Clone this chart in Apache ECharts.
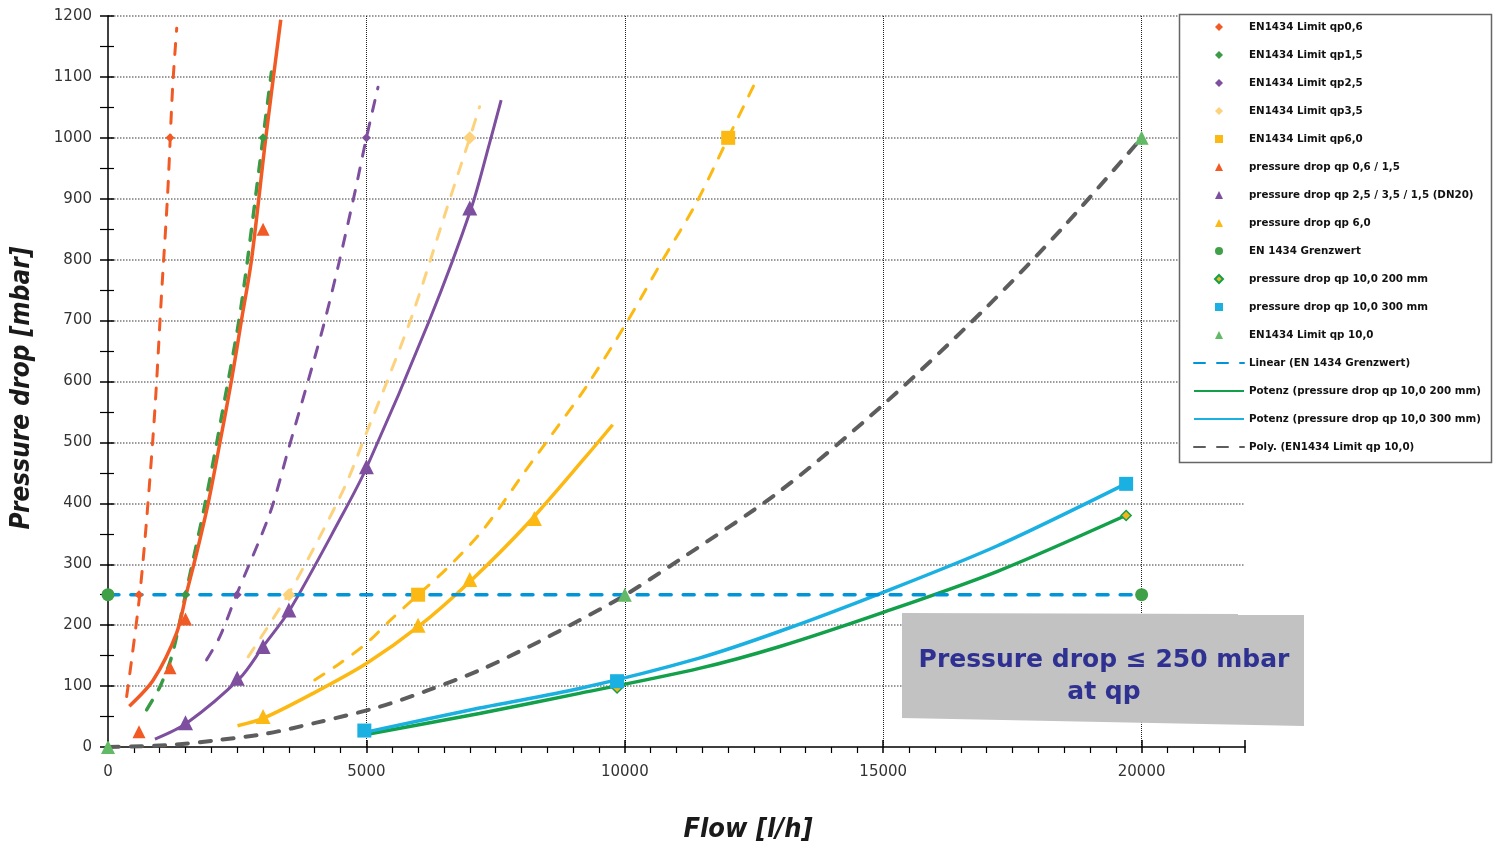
<!DOCTYPE html>
<html lang="en">
<head>
<meta charset="UTF-8">
<title>Pressure drop</title>
<script src="https://cdn.jsdelivr.net/npm/echarts@6.0.0/dist/echarts.min.js"></script>
<style>html,body{margin:0;padding:0;background:#fff}</style>
</head>
<body>
<div id="main" style="width:1501px;height:845px"></div>
<script>
// EN 1434 limit points
var limitQp06 = [[600, 250], [1200, 1000]]
var limitQp15 = [[1500, 250], [3000, 1000]]
var limitQp25 = [[2500, 250], [5000, 1000]]
var limitQp35 = [[3500, 250], [7000, 1000]]
var limitQp60 = [[6000, 250], [12000, 1000]]
var limitQp10 = [[0, 0], [10000, 250], [20000, 1000]]
var grenzwert = [[0, 250], [20000, 250]]

// measured pressure drop
var dropQp06 = [[600, 25], [1200, 130], [1500, 210], [3000, 850]]
var dropQp25 = [[1500, 40], [2500, 113], [3000, 165], [3500, 225], [5000, 460], [7000, 885]]
var dropQp60 = [[3000, 50], [6000, 200], [7000, 275], [8250, 375]]
var drop200 = [[9850, 97], [19700, 380]]
var drop300 = [[4960, 27], [9850, 108], [19700, 432]]

// trend lines
var trendLimit06 = [[361, 83], [457, 143], [618, 253], [759, 385], [908, 555], [1037, 745], [1153, 906], [1250, 1082], [1330, 1180]]
var trendLimit15 = [[747, 61], [1005, 99], [1230, 148], [1500, 250], [1880, 400], [2210, 548], [2570, 720], [3000, 1000], [3163, 1108]]
var trendLimit25 = [[1907, 143], [2164, 181], [2487, 250], [3130, 383], [3485, 487], [4130, 679], [4450, 788], [4773, 909], [5000, 1000], [5224, 1083]]
var trendLimit35 = [[2712, 148], [3485, 250], [4097, 345], [4613, 433], [4998, 515], [5385, 597], [5900, 712], [6545, 881], [7000, 1000], [7190, 1051]]
var trendLimit60 = [[4000, 110], [4483, 137], [5000, 170], [5449, 207], [6000, 250], [6545, 292], [7252, 356], [8091, 455], [8605, 515], [9250, 591], [10023, 695], [10730, 799], [11376, 892], [12000, 1000], [12502, 1087]]
var trendDrop06 = [[412, 67], [876, 110], [1327, 187], [1520, 253], [1714, 318], [1938, 400], [2164, 499], [2390, 602], [2583, 701], [2777, 800], [3053, 1000], [3343, 1194]]
var trendDrop25 = [[908, 13], [1520, 39], [2551, 113], [3001, 165], [3517, 225], [4483, 373], [5000, 458], [6222, 701], [7027, 884], [7382, 991], [7607, 1062]]
var trendDrop60 = [[2506, 35], [3001, 47], [3967, 88], [4999, 137], [5996, 197], [6995, 271], [8122, 367], [9250, 477], [9765, 529]]
var trendLinear = [[0, 250], [20000, 250]]
var trend200 = [[4966, 20], [7188, 55], [9121, 88], [11440, 129], [13000, 165], [15000, 221], [17200, 288], [19691, 380]]
var trend300 = [[4966, 24], [7188, 64], [9121, 96], [11440, 146], [13000, 190], [15000, 254], [17200, 330], [19691, 432]]
var trendPoly = [[0, 0], [1134, 3], [2100, 11], [3066, 22], [4033, 40], [5256, 66], [6222, 94], [7188, 126], [8155, 165], [9121, 208], [9958, 247], [11053, 307], [13000, 420], [15000, 562], [17000, 722], [18500, 855], [20000, 1000]]

var orange = '#f15a24', green15 = '#3a9b47', purple = '#7d4f9e', peach = '#fdd27c', amber = '#fdb913'
var dotGreen = '#3fa048', triGreen = '#62b966', cyan = '#1ab0e2', green200 = '#12a04b', gray = '#5d5d5d', blue = '#0094d8'

var font = 'DejaVu Sans'

function trend(name, data, color, width, dashed) {
    return {
        name: name,
        type: 'line',
        data: data,
        smooth: 0.3,
        symbol: 'none',
        z: 2,
        lineStyle: {
            color: color,
            width: width,
            type: dashed ? [11, 12] : 'solid',
            cap: dashed ? 'round' : 'butt'
        },
        itemStyle: { color: color }
    }
}

function points(name, data, symbol, size, color, border) {
    return {
        name: name,
        type: 'scatter',
        data: data,
        symbol: symbol,
        symbolSize: size,
        z: 5,
        itemStyle: {
            color: color,
            borderColor: border || color,
            borderWidth: border ? 1.5 : 0,
            opacity: 1
        }
    }
}

var pointNames = [
    'EN1434 Limit qp0,6', 'EN1434 Limit qp1,5', 'EN1434 Limit qp2,5', 'EN1434 Limit qp3,5', 'EN1434 Limit qp6,0',
    'pressure drop qp 0,6 / 1,5', 'pressure drop qp 2,5 / 3,5 / 1,5 (DN20)', 'pressure drop qp 6,0',
    'EN 1434 Grenzwert', 'pressure drop qp 10,0 200 mm', 'pressure drop qp 10,0 300 mm', 'EN1434 Limit qp 10,0'
]
var lineNames = [
    'Linear (EN 1434 Grenzwert)', 'Potenz (pressure drop qp 10,0 200 mm)', 'Potenz (pressure drop qp 10,0 300 mm)',
    'Poly. (EN1434 Limit qp 10,0)'
]

var legendText = { fontFamily: font, fontWeight: 'bold', fontSize: 10.3, color: '#111', lineHeight: 14 }

var myChart = echarts.init(document.getElementById('main'))

var plainNumber = function(v) { return String(v) }

var option = {
    animation: false,
    backgroundColor: '#fff',
    grid: { left: 108, right: 256, top: 16, bottom: 98, containLabel: false, outerBoundsMode: 'none' },
    legend: [{
        data: pointNames,
        orient: 'vertical',
        left: 1214,
        top: 20,
        padding: 0,
        itemWidth: 8,
        itemHeight: 8,
        itemGap: 14,
        selectedMode: false,
        textStyle: Object.assign({ padding: [0, 0, 0, 21] }, legendText)
    }, {
        data: lineNames.map(function(n) { return { name: n, itemStyle: { opacity: 0 } } }),
        orient: 'vertical',
        left: 1193,
        top: 356,
        padding: 0,
        itemWidth: 50,
        itemHeight: 8,
        itemGap: 14,
        selectedMode: false,
        textStyle: legendText
    }],
    xAxis: [{
        type: 'value',
        min: 0,
        max: 22000,
        interval: 5000,
        axisLine: { onZero: false, lineStyle: { color: '#000', width: 1.5 } },
        axisTick: { length: 6, lineStyle: { color: '#000', width: 1.5 } },
        minorTick: { show: true, splitNumber: 10, length: 6, lineStyle: { color: '#000', width: 1.2 } },
        axisLabel: { showMaxLabel: false, margin: 18, fontFamily: font, fontSize: 15, color: '#333', formatter: plainNumber },
        splitLine: { show: true, showMinLine: false, showMaxLine: false, lineStyle: { color: '#222', width: 1, type: 'dotted' } }
    }, {
        type: 'value',
        position: 'bottom',
        min: 0,
        max: 22000,
        interval: 5000,
        axisLine: { show: false },
        axisTick: { inside: true, length: 7, lineStyle: { color: '#000', width: 1.5 } },
        axisLabel: { show: false },
        splitLine: { show: false }
    }],
    yAxis: [{
        type: 'value',
        min: 0,
        max: 1200,
        interval: 100,
        axisLine: { show: true, onZero: false, lineStyle: { color: '#000', width: 1.5 } },
        axisTick: { show: true, length: 8, lineStyle: { color: '#000', width: 1.5 } },
        minorTick: { show: true, splitNumber: 2, length: 8, lineStyle: { color: '#000', width: 1.2 } },
        axisLabel: { margin: 16, fontFamily: font, fontSize: 15, color: '#333', formatter: plainNumber },
        splitLine: { show: true, showMinLine: false, lineStyle: { color: '#7a7a7a', width: 1.5, type: 'dotted' } }
    }, {
        type: 'value',
        position: 'left',
        min: 0,
        max: 1200,
        interval: 100,
        axisLine: { show: false },
        axisTick: { show: true, inside: true, length: 6, lineStyle: { color: '#000', width: 1.5 } },
        minorTick: { show: true, splitNumber: 2, length: 6, lineStyle: { color: '#000', width: 1.2 } },
        axisLabel: { show: false },
        splitLine: { show: false }
    }],
    graphic: [{
        type: 'rect',
        z: 3,
        shape: { x: 1179.5, y: 14.5, width: 312, height: 448 },
        style: { fill: '#fff', stroke: '#666', lineWidth: 1.5 }
    }, {
        type: 'polygon',
        z: 10,
        shape: { points: [[902, 613], [1238, 614], [1238, 615], [1304, 615], [1304, 726], [902, 718]] },
        style: { fill: '#c1c2c1' }
    }, {
        type: 'text',
        z: 11,
        x: 1104,
        y: 676,
        style: {
            text: 'Pressure drop \u2264 250 mbar\nat qp',
            fill: '#2e3192',
            font: 'bold 25px "DejaVu Sans"',
            lineHeight: 32,
            textAlign: 'center',
            textVerticalAlign: 'middle'
        }
    }, {
        type: 'text',
        x: 22,
        y: 388,
        rotation: Math.PI / 2,
        style: {
            text: 'Pressure drop [mbar]',
            fill: '#1a1a1a',
            font: 'italic bold 26px "Liberation Sans Narrow", "DejaVu Sans Condensed", sans-serif',
            textAlign: 'center',
            textVerticalAlign: 'middle'
        }
    }, {
        type: 'text',
        x: 748,
        y: 830,
        style: {
            text: 'Flow [l/h]',
            fill: '#1a1a1a',
            font: 'italic bold 27px "Liberation Sans Narrow", "DejaVu Sans Condensed", sans-serif',
            textAlign: 'center',
            textVerticalAlign: 'middle'
        }
    }],
    series: [
        trend('trend limit qp0,6', trendLimit06, orange, 3, true),
        trend('trend limit qp1,5', trendLimit15, green15, 3.5, true),
        trend('trend limit qp2,5', trendLimit25, purple, 3, true),
        trend('trend limit qp3,5', trendLimit35, peach, 3, true),
        trend('trend limit qp6,0', trendLimit60, amber, 3, true),
        trend('trend pressure drop qp 0,6 / 1,5', trendDrop06, orange, 3.5, false),
        trend('trend pressure drop qp 2,5', trendDrop25, purple, 3, false),
        trend('trend pressure drop qp 6,0', trendDrop60, amber, 3.5, false),
        trend('Poly. (EN1434 Limit qp 10,0)', trendPoly, gray, 4, true),
        trend('Potenz (pressure drop qp 10,0 200 mm)', trend200, green200, 3.5, false),
        trend('Potenz (pressure drop qp 10,0 300 mm)', trend300, cyan, 3.5, false),
        trend('Linear (EN 1434 Grenzwert)', trendLinear, blue, 3.5, true),

        points('EN1434 Limit qp0,6', limitQp06, 'diamond', 9, orange),
        points('EN1434 Limit qp1,5', limitQp15, 'diamond', 9, green15),
        points('EN1434 Limit qp2,5', limitQp25, 'diamond', 9, purple),
        points('EN1434 Limit qp3,5', limitQp35, 'diamond', 13, peach),
        points('EN1434 Limit qp6,0', limitQp60, 'rect', 14, amber),
        points('pressure drop qp 0,6 / 1,5', dropQp06, 'triangle', 13, orange),
        points('pressure drop qp 2,5 / 3,5 / 1,5 (DN20)', dropQp25, 'triangle', 15, purple),
        points('pressure drop qp 6,0', dropQp60, 'triangle', 15, amber),
        points('EN 1434 Grenzwert', grenzwert, 'circle', 13, dotGreen),
        points('pressure drop qp 10,0 200 mm', drop200, 'diamond', 10, '#f5b41c', green200),
        points('pressure drop qp 10,0 300 mm', drop300, 'rect', 14, cyan),
        points('EN1434 Limit qp 10,0', limitQp10, 'triangle', 14, triGreen)
    ]
}

myChart.setOption(option)
</script>
</body>
</html>
